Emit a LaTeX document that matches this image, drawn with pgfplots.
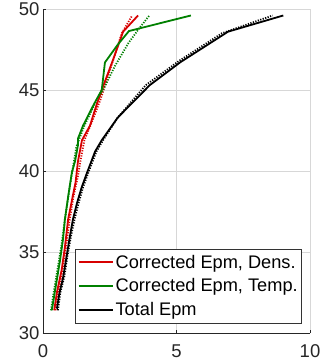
\documentclass[border=0pt]{standalone}
\usepackage{pgfplots}
\pgfplotsset{compat=1.18}
\usepackage{fontspec}
\setmainfont{Liberation Sans}
\definecolor{mred}{RGB}{215,0,0}
\definecolor{mgreen}{RGB}{0,128,0}
\definecolor{mgrid}{RGB}{215,215,215}
\begin{document}
\begin{tikzpicture}
\begin{axis}[
  scale only axis, width=267pt, height=324pt,
  xmin=0, xmax=10, ymin=30, ymax=50,
  xtick={0,5,10}, ytick={30,35,40,45,50},
  grid=major, major grid style={mgrid, line width=0.6pt},
  axis x line*=bottom, axis y line*=left,
  axis line style={-, line width=0.8pt, black!85},
  tick align=inside, tick style={black!85, line width=0.6pt},
  major tick length=3pt,
  tick label style={font=\fontsize{18.5}{20}\selectfont, text=black!85},
  xticklabel style={yshift=-8.5pt},
  /pgf/number format/assume math mode=true,
  clip=false,
  legend style={at={(0.970,0.030)}, anchor=south east, draw=black!80,
    line width=0.6pt, font=\fontsize{18.2}{20}\selectfont,
    inner xsep=2pt, inner ysep=4pt, row sep=5pt},
  legend cell align=left,
  legend image code/.code={\draw[#1, line width=1.9pt] (0pt,0pt) -- (34pt,0pt);},
  legend image post style={line width=1.9pt},
]
% dotted
\addplot[mred, line width=1.8pt, dash pattern=on 1.2pt off 1.4pt, forget plot] coordinates {
(0.47,31.4) (0.58,32.5) (0.73,33.9) (0.87,35.4) (1.0,37.0) (1.15,38.5) (1.3,39.6) (1.4,40.6) (1.55,41.9) (1.85,43.1) (2.15,44.4) (2.42,45.8) (2.62,46.8) (2.95,48.5) (3.33,49.57)};
\addplot[mgreen, line width=1.8pt, dash pattern=on 1.2pt off 1.4pt, forget plot] coordinates {
(0.3,31.4) (0.4,32.5) (0.55,34.0) (0.7,35.5) (0.82,37.0) (1.0,39.0) (1.1,40.0) (1.25,41.5) (1.55,42.8) (1.9,44.0) (2.25,45.0) (2.7,46.5) (3.2,47.9) (3.6,48.8) (3.97,49.57)};
\addplot[black, line width=1.8pt, dash pattern=on 1.2pt off 1.4pt, forget plot] coordinates {
(0.56,31.4) (0.65,32.5) (0.8,33.5) (0.92,34.8) (1.05,36.0) (1.18,37.0) (1.33,38.0) (1.5,39.0) (1.72,40.0) (2.0,41.2) (2.25,41.9) (2.8,43.3) (3.85,45.3) (5.1,46.8) (6.7,48.5) (8.6,49.6)};
% solid
\addplot[mred, line width=1.8pt] coordinates {
(0.42,31.4) (0.52,32.5) (0.7,33.9) (0.82,35.3) (0.94,37.0) (1.12,38.5) (1.22,39.3) (1.31,40.6) (1.46,41.9) (1.76,42.8) (1.95,43.8) (2.2,45.0) (2.62,46.85) (3.0,48.6) (3.56,49.6)};
\addlegendentry{Corrected Epm, Dens.}
\addplot[mgreen, line width=1.8pt] coordinates {
(0.33,31.4) (0.45,32.6) (0.64,34.5) (0.75,35.8) (0.82,37.0) (0.95,38.5) (1.08,39.9) (1.2,40.6) (1.31,41.6) (1.31,42.0) (1.5,42.8) (1.9,44.1) (2.2,45.0) (2.32,46.7) (2.8,47.8) (3.22,48.64) (5.54,49.6)};
\addlegendentry{Corrected Epm, Temp.\hspace{6pt}}
\addplot[black, line width=1.8pt] coordinates {
(0.52,31.5) (0.62,32.5) (0.75,33.4) (0.88,34.7) (1.0,35.9) (1.12,37.0) (1.27,38.0) (1.45,39.0) (1.65,39.9) (1.95,41.2) (2.2,41.9) (2.8,43.3) (4.0,45.3) (5.13,46.7) (6.93,48.6) (9.0,49.6)};
\addlegendentry{Total Epm}
\end{axis}
\pgfresetboundingbox
\path[use as bounding box] (-43pt,-28pt) rectangle (281pt,333pt);
\end{tikzpicture}
\end{document}
